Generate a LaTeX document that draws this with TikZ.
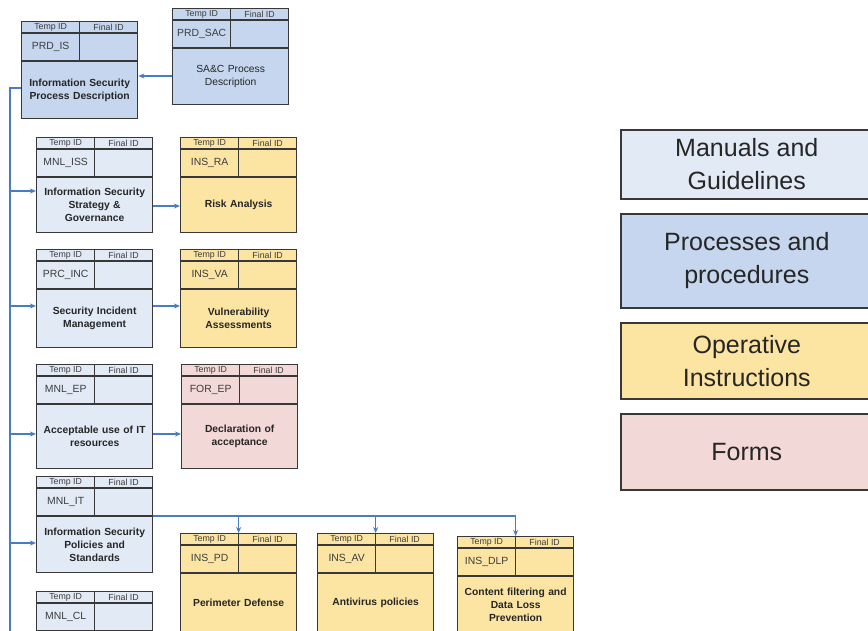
\documentclass[tikz,border=0pt]{standalone}
\usepackage{fontspec}
\setmainfont{Liberation Sans}
\usetikzlibrary{calc,arrows.meta}
\definecolor{manual}{HTML}{E2EAF6}
\definecolor{proc}{HTML}{C5D6EE}
\definecolor{oper}{HTML}{FCE4A2}
\definecolor{formc}{HTML}{F2D8D6}
\definecolor{edge}{HTML}{383838}
\definecolor{conn}{HTML}{4A7CC4}
\definecolor{txt}{HTML}{262626}
\tikzset{
  recbox/.style={draw=edge, line width=1.3pt, minimum width=116pt, inner sep=0pt, rectangle},
  innerline/.style={draw=edge, line width=1.2pt},
  hdrtext/.style={font=\fontsize{8.8}{9}\selectfont, text=txt!90, inner sep=0pt},
  idtext/.style={font=\fontsize{10.4}{11}\selectfont, text=txt!90, inner sep=0pt},
  titletext/.style={font=\bfseries\fontsize{10.3}{13}\selectfont, text=txt, align=center, text width=112pt, inner sep=0pt},
  legbox/.style={draw=edge, line width=1.6pt, minimum width=252pt, anchor=north west, inner sep=0pt, align=center,
     font=\fontsize{25}{33}\selectfont, text=txt},
  link/.style={draw=conn, line width=1.1pt},
  arr/.style={link, -{Stealth[length=6pt,width=5pt]}}
}
\newcommand{\recbox}[7]{%
  \node[recbox, fill=#5, minimum height={#4-#3}, anchor=north west] (#1) at (#2,#3) {};
  \draw[innerline] ([yshift=-12pt]#1.north west) -- ([yshift=-12pt]#1.north east);
  \draw[innerline] ([yshift=-40pt]#1.north west) -- ([yshift=-40pt]#1.north east);
  \draw[innerline] (#1.north) -- ([yshift=-40pt]#1.north);
  \node[hdrtext] (#1-tmp) at ([xshift=-29pt,yshift=-6.6pt]#1.north) {Temp ID};
  \node[hdrtext] (#1-fin) at ([xshift=29pt,yshift=-6.6pt]#1.north) {Final ID};
  \node[idtext] (#1-id) at ([xshift=-29pt,yshift=-26pt]#1.north) {#6};
  \node[titletext] (#1-title) at ($([yshift=-40pt]#1.north)!0.5!(#1.south)$) {#7};
}
\begin{document}
\begin{tikzpicture}[x=1pt,y=-1pt]
\useasboundingbox (0,0) rectangle (868,630);
\clip (0,0) rectangle (868,630);
\fill[white] (0,0) rectangle (868,630);

% record boxes
\recbox{prdis}{21}{21}{118}{proc}{PRD\_IS}{Information Security\\Process Description}
\recbox{prdsac}{172}{8}{104}{proc}{PRD\_SAC}{\mdseries SA\&C Process\\Description}
\recbox{mnliss}{36}{137}{232}{manual}{MNL\_ISS}{Information Security\\Strategy \&\\Governance}
\recbox{insra}{180}{137}{232}{oper}{INS\_RA}{Risk Analysis}
\recbox{prcinc}{36}{249}{347}{manual}{PRC\_INC}{Security Incident\\Management}
\recbox{insva}{180}{249}{347}{oper}{INS\_VA}{Vulnerability\\Assessments}
\recbox{mnlep}{36}{364}{468}{manual}{MNL\_EP}{Acceptable use of IT\\resources}
\recbox{forep}{181}{364}{468}{formc}{FOR\_EP}{Declaration of\\acceptance}
\recbox{mnlit}{36}{476}{572}{manual}{MNL\_IT}{Information Security\\Policies and\\Standards}
\recbox{inspd}{180}{533}{632}{oper}{INS\_PD}{Perimeter Defense}
\recbox{insav}{317}{533}{632}{oper}{INS\_AV}{Antivirus policies}
\recbox{insdlp}{457}{536}{632}{oper}{INS\_DLP}{Content filtering and\\Data Loss\\Prevention}
\recbox{mnlcl}{36}{591}{680}{manual}{MNL\_CL}{}

% connectors
\coordinate (ttop) at (10,88);
\coordinate (tbot) at (10,640);
\draw[link] (prdis.west |- ttop) -- (ttop) -- (tbot);
\coordinate (sacy) at (0,76);
\draw[arr] (prdsac.west |- sacy) -- (prdis.east |- sacy);

\coordinate (b1) at (10,191);
\coordinate (b2) at (10,306);
\coordinate (b3) at (10,434);
\coordinate (b4) at (10,543);
\draw[arr] (b1) -- (b1 -| mnliss.west);
\draw[arr] (b2) -- (b2 -| prcinc.west);
\draw[arr] (b3) -- (b3 -| mnlep.west);
\draw[arr] (b4) -- (b4 -| mnlit.west);

\coordinate (r1) at (0,206);
\coordinate (r2) at (0,306);
\coordinate (r3) at (0,434);
\draw[arr] (mnliss.east |- r1) -- (insra.west |- r1);
\draw[arr] (prcinc.east |- r2) -- (insva.west |- r2);
\draw[arr] (mnlep.east |- r3) -- (forep.west |- r3);

\coordinate (bus) at (0,516);
\draw[link] (mnlit.east |- bus) -- (insdlp.north |- bus);
\draw[arr] (inspd.north |- bus) -- (inspd.north);
\draw[arr] (insav.north |- bus) -- (insav.north);
\draw[arr] (insdlp.north |- bus) -- (insdlp.north);

% legend
\node[legbox, fill=manual, minimum height=69pt] (legman) at (620,129) {Manuals and\\Guidelines};
\node[legbox, fill=proc, minimum height=94pt] (legproc) at (620,213) {Processes and\\procedures};
\node[legbox, fill=oper, minimum height=76pt] (legoper) at (620,322) {Operative\\Instructions};
\node[legbox, fill=formc, minimum height=76pt] (legform) at (620,413) {Forms};
\end{tikzpicture}
\end{document}
